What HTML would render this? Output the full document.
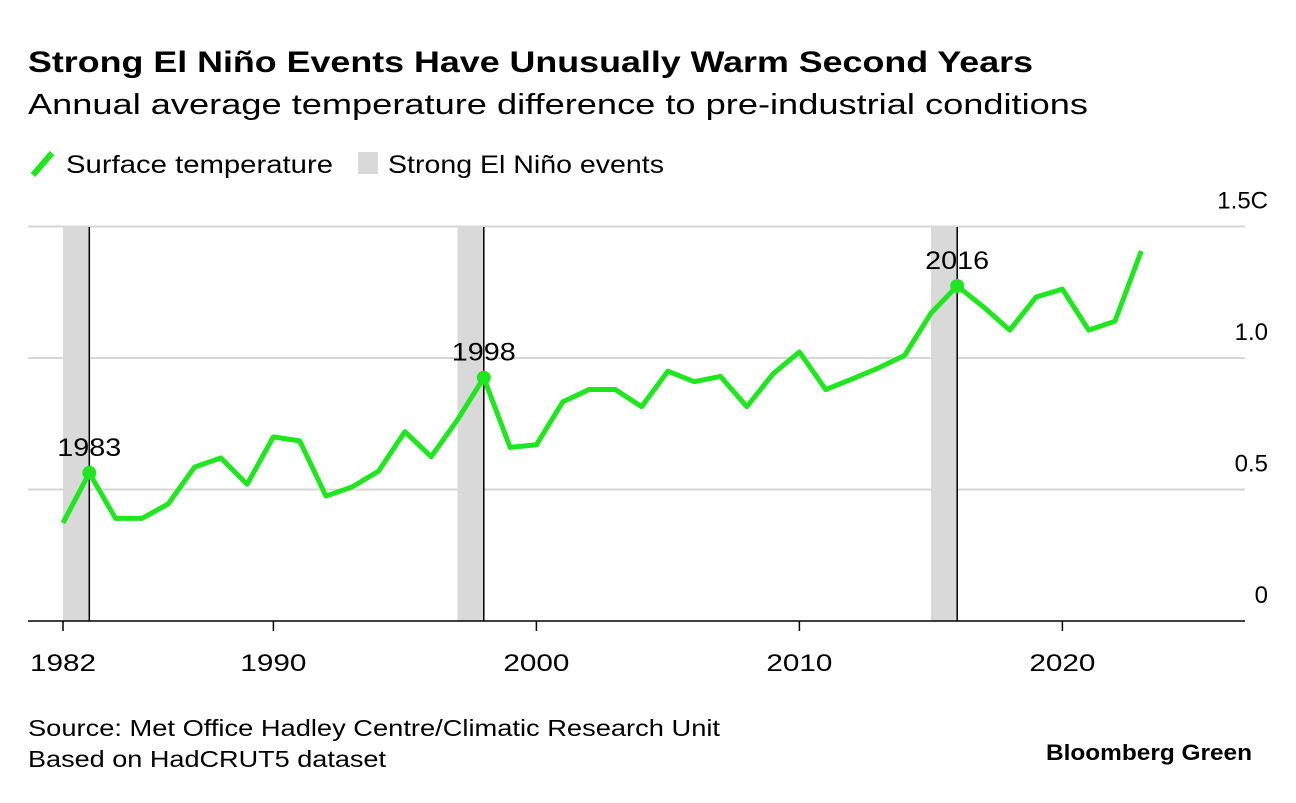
<!DOCTYPE html>
<html><head><meta charset="utf-8"><style>
body{margin:0;background:#fff;font-family:"Liberation Sans",sans-serif;}
svg text{font-family:"Liberation Sans",sans-serif;}
</style></head><body>
<svg width="1296" height="798" xmlns="http://www.w3.org/2000/svg">
<text x="28" y="72" font-size="30" font-weight="bold" fill="#000" textLength="1005" lengthAdjust="spacingAndGlyphs">Strong El Niño Events Have Unusually Warm Second Years</text>
<text x="28" y="114" font-size="29" fill="#000" textLength="1060" lengthAdjust="spacingAndGlyphs">Annual average temperature difference to pre-industrial conditions</text>
<g>
<line x1="33" y1="175" x2="52" y2="153" stroke="#1fe61f" stroke-width="6"/>
<text x="66" y="173" font-size="25" textLength="267" lengthAdjust="spacingAndGlyphs">Surface temperature</text>
<rect x="358" y="152" width="20" height="22" fill="#d9d9d9"/>
<text x="388" y="173" font-size="25" textLength="276" lengthAdjust="spacingAndGlyphs">Strong El Niño events</text>
</g>
<g id="plot"></g>
<text x="28" y="736" font-size="23" textLength="692" lengthAdjust="spacingAndGlyphs">Source: Met Office Hadley Centre/Climatic Research Unit</text>
<text x="28" y="767" font-size="23" textLength="358" lengthAdjust="spacingAndGlyphs">Based on HadCRUT5 dataset</text>
<text x="1046" y="760" font-size="22" font-weight="bold" textLength="206" lengthAdjust="spacingAndGlyphs">Bloomberg Green</text>
</svg>
<script>
const years=[1982,1983,1984,1985,1986,1987,1988,1989,1990,1991,1992,1993,1994,1995,1996,1997,1998,1999,2000,2001,2002,2003,2004,2005,2006,2007,2008,2009,2010,2011,2012,2013,2014,2015,2016,2017,2018,2019,2020,2021,2022,2023];
const temps=[0.373,0.563,0.39,0.39,0.445,0.585,0.62,0.52,0.70,0.685,0.475,0.51,0.57,0.72,0.625,0.765,0.925,0.66,0.67,0.833,0.88,0.88,0.815,0.95,0.91,0.93,0.815,0.94,1.023,0.88,0.92,0.962,1.01,1.17,1.274,1.194,1.106,1.232,1.262,1.106,1.14,1.407];
const ninoStart=[1982,1997,2015];
const ninoPeak=[1983,1998,2016];
const yTicks=[0,0.5,1.0,1.5];
const yTickLabels=["0","0.5","1.0","1.5C"];
const xTicks=[1982,1990,2000,2010,2020];
const NS="http://www.w3.org/2000/svg";
const g=document.getElementById('plot');
const x=v=>63+(v-1982)*26.3;
const y=v=>621-v*263;
function el(t,a,p){const e=document.createElementNS(NS,t);for(const k in a)e.setAttribute(k,a[k]);(p||g).appendChild(e);return e;}
yTicks.forEach((t,i)=>{
 if(t>0){const l=el('line',{x1:28,x2:1245,y1:y(t),y2:y(t),stroke:'#d6d6d6','stroke-width':2});
 
 }
 const tx=el('text',{x:1268,y:y(t)-18,'font-size':24,'text-anchor':'end'});tx.textContent=yTickLabels[i];
 
 
});
ninoStart.forEach((s,i)=>{
 const r=el('rect',{x:x(s),y:227,width:x(ninoPeak[i])-x(s),height:394,fill:'#d9d9d9'});
 
 
 const l=el('line',{x1:x(ninoPeak[i]),x2:x(ninoPeak[i]),y1:227,y2:621,stroke:'#000','stroke-width':1.5});
 
 
});
const base=el('line',{x1:28,x2:1245,y1:621,y2:621,stroke:'#000','stroke-width':1.5});


xTicks.forEach(t=>{
 const l=el('line',{x1:x(t),x2:x(t),y1:621,y2:631,stroke:'#000','stroke-width':1.5});
 
 
 const tx=el('text',{x:x(t),y:671,'font-size':24,'text-anchor':'middle',textLength:66,lengthAdjust:'spacingAndGlyphs'});tx.textContent=t;
 
 
});
const p=el('polyline',{points:years.map((yr,i)=>x(yr)+','+y(temps[i])).join(' '),fill:'none',stroke:'#1fe61f','stroke-width':5,'stroke-linejoin':'round'});


ninoPeak.forEach(pk=>{
 const i=years.indexOf(pk);
 const c=el('circle',{cx:x(pk),cy:y(temps[i]),r:7,fill:'#1fe61f'});
 
 
 const tx=el('text',{x:x(pk),y:y(temps[i])-17,'font-size':25,'text-anchor':'middle',textLength:64,lengthAdjust:'spacingAndGlyphs'});tx.textContent=pk;
 
 
});
</script>
</body></html>
